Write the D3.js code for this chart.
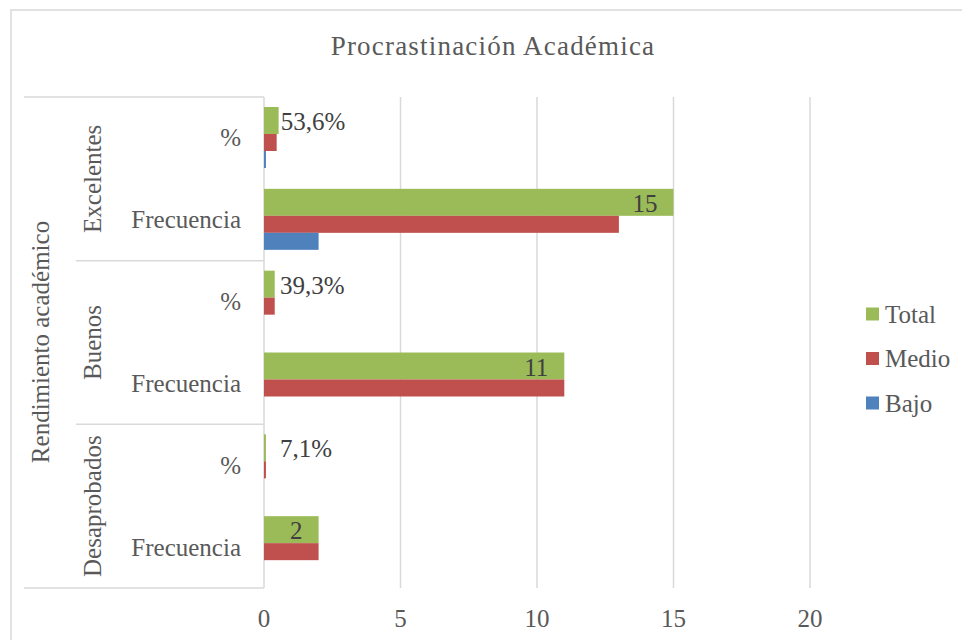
<!DOCTYPE html>
<html>
<head>
<meta charset="utf-8">
<script src="https://cdn.jsdelivr.net/npm/d3@7"></script>
<style>
  body { margin: 0; background: #fff; }
  text { font-family: "Liberation Serif", serif; fill: #595959; }
</style>
</head>
<body>
<svg id="chart" width="962" height="640"></svg>
<script>
// chart data
const groups = ["Excelentes", "Buenos", "Desaprobados"];
const rowKinds = ["%", "Frecuencia"];
const series = ["Total", "Medio", "Bajo"];
const totalValues = [0.536, 15, 0.393, 11, 0.071, 2];
const medioValues = [0.464, 13, 0.393, 11, 0.071, 2];
const bajoValues = [0.071, 2, 0, 0, 0, 0];
const totalLabels = ["53,6%", "15", "39,3%", "11", "7,1%", "2"];
const xTicks = [0, 5, 10, 15, 20];

const colors = {
  Total: "#9bbb59",
  Medio: "#c0504d",
  Bajo: "#4f81bd",
  grid: "#d9d9d9",
  text: "#595959"
};

const fontSize = "25px";
const svg = d3.select("#chart");

// outer chart border
svg.append("rect")
  .attr("x", 11).attr("y", 10)
  .attr("width", 980).attr("height", 660)
  .attr("fill", "none")
  .attr("stroke", colors.grid)
  .attr("stroke-width", 1.5);

svg.append("text")
  .attr("x", 493).attr("y", 46)
  .attr("text-anchor", "middle")
  .attr("dominant-baseline", "central")
  .style("font-size", "27px")
  .style("letter-spacing", "1.2px")
  .text("Procrastinación Académica");

// rows, top to bottom
const rows = [];
groups.forEach(g => rowKinds.forEach(k => rows.push({ group: g, kind: k })));
rows.forEach((r, i) => {
  r.key = r.group + "|" + r.kind;
  r.Total = totalValues[i];
  r.Medio = medioValues[i];
  r.Bajo = bajoValues[i];
  r.label = totalLabels[i];
});

const x = d3.scaleLinear().domain([0, 20]).range([264, 810]);
const y = d3.scaleBand().domain(rows.map(r => r.key)).range([97, 588]);
const inner = d3.scaleBand().domain(series).range([20, 71]);
const totalExtra = 10;

// gridlines
svg.append("g").selectAll("line")
  .data(xTicks)
  .enter().append("line")
  .attr("x1", d => x(d)).attr("x2", d => x(d))
  .attr("y1", 97).attr("y2", 588)
  .attr("stroke", colors.grid)
  .attr("stroke-width", 1.5);

// x tick labels
svg.append("g").selectAll("text")
  .data(xTicks)
  .enter().append("text")
  .attr("x", d => x(d)).attr("y", 618)
  .attr("text-anchor", "middle")
  .attr("dominant-baseline", "central")
  .style("font-size", fontSize)
  .text(d => d);

// bars
const rowG = svg.append("g").selectAll("g")
  .data(rows)
  .enter().append("g")
  .attr("transform", d => `translate(0,${y(d.key)})`);

series.forEach(s => {
  rowG.append("rect")
    .attr("x", x(0))
    .attr("y", d => inner(s) - (s === "Total" ? totalExtra : 0))
    .attr("width", d => x(d[s]) - x(0))
    .attr("height", inner.bandwidth() + (s === "Total" ? totalExtra : 0))
    .attr("fill", colors[s]);
});

// data labels on Total
rowG.append("text")
  .attr("x", d => d.kind === "%" ? Math.max(x(d.Total) + 2, 280) : x(d.Total) - 16)
  .attr("y", (inner("Total") - totalExtra + inner("Total") + inner.bandwidth()) / 2 + 1)
  .attr("text-anchor", d => d.kind === "%" ? "start" : "end")
  .attr("dominant-baseline", "central")
  .style("font-size", fontSize)
  .style("fill", "#404040")
  .text(d => d.label);

// category axis table
const table = svg.append("g");
const lineStyle = sel => sel.attr("stroke", colors.grid).attr("stroke-width", 1.5);
table.append("line").attr("x1", 24).attr("x2", 264).attr("y1", 97).attr("y2", 97).call(lineStyle);
table.append("line").attr("x1", 24).attr("x2", 264).attr("y1", 588).attr("y2", 588).call(lineStyle);
groups.slice(1).forEach(g => {
  const yy = y(g + "|" + rowKinds[0]);
  table.append("line").attr("x1", 76).attr("x2", 264).attr("y1", yy).attr("y2", yy).call(lineStyle);
});

table.selectAll(".sub")
  .data(rows)
  .enter().append("text")
  .attr("x", 241)
  .attr("y", d => y(d.key) + y.bandwidth() / 2)
  .attr("text-anchor", "end")
  .attr("dominant-baseline", "central")
  .style("font-size", fontSize)
  .text(d => d.kind);

table.selectAll(".grp")
  .data(groups)
  .enter().append("text")
  .attr("transform", g => {
    const cy = y(g + "|" + rowKinds[0]) + y.bandwidth();
    return `translate(92,${cy}) rotate(-90)`;
  })
  .attr("text-anchor", "middle")
  .attr("dominant-baseline", "central")
  .style("font-size", fontSize)
  .text(g => g);

table.append("text")
  .attr("transform", "translate(40,342) rotate(-90)")
  .attr("text-anchor", "middle")
  .attr("dominant-baseline", "central")
  .style("font-size", fontSize)
  .text("Rendimiento académico");

// legend
const legend = svg.append("g").selectAll("g")
  .data(series)
  .enter().append("g")
  .attr("transform", (d, i) => `translate(866,${314 + i * 44.5})`);
legend.append("rect")
  .attr("x", 0).attr("y", -6.5)
  .attr("width", 13).attr("height", 13)
  .attr("fill", d => colors[d]);
legend.append("text")
  .attr("x", 19).attr("y", 0)
  .attr("dominant-baseline", "central")
  .style("font-size", fontSize)
  .text(d => d);
</script>
</body>
</html>
